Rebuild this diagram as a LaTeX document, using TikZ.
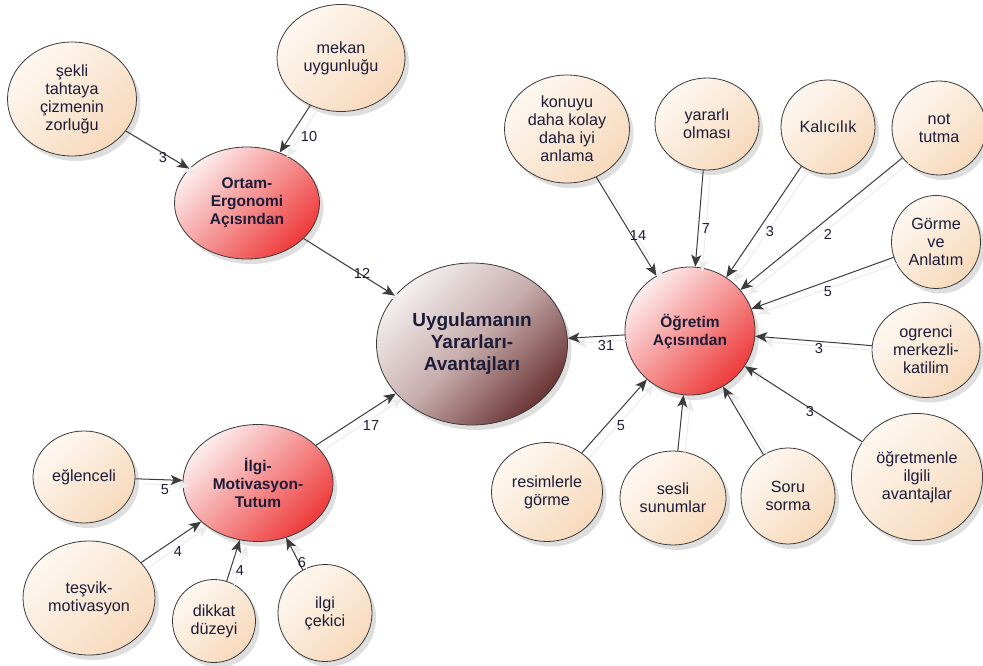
\documentclass[tikz,border=0pt]{standalone}
\usepackage{fontspec}
\setmainfont{Liberation Sans}
\usetikzlibrary{shapes.geometric,arrows.meta,shadows}

\definecolor{txt}{HTML}{1C1C38}
\definecolor{rim}{HTML}{3A3A3A}
\definecolor{creamA}{HTML}{FEF8F1}
\definecolor{creamB}{HTML}{F7D9BC}
\definecolor{pinkA}{HTML}{FDEDED}
\definecolor{pinkB}{HTML}{EE3A3A}
\definecolor{mauveA}{HTML}{F4EFEF}
\definecolor{mauveM}{HTML}{C7ACAC}
\definecolor{mauveB}{HTML}{6A3434}
\definecolor{linegray}{HTML}{3C3C3C}

\tikzset{
  bubble/.style={ellipse, draw=rim, line width=0.8pt, inner sep=0pt, align=center, text=txt,
    drop shadow={shadow xshift=4pt, shadow yshift=-5pt, fill=black, opacity=0.13}},
  leaf/.style={bubble, top color=creamA, bottom color=creamB, shading angle=45,
    font=\fontsize{16.2}{18}\selectfont},
  hub/.style={bubble, top color=pinkA, bottom color=pinkB, shading angle=45,
    font=\bfseries\fontsize{15.5}{18}\selectfont},
  core/.style={bubble, top color=mauveA, bottom color=mauveB, middle color=mauveM, shading angle=45,
    font=\bfseries\fontsize{19}{22}\selectfont},
  link/.style={draw=linegray, line width=1pt, -{Stealth[length=12pt,width=10pt,inset=3pt]}},
  ghost/.style={draw=black!8, line width=1pt, -{Stealth[length=12pt,width=10pt,inset=3pt]},
    transform canvas={shift={(7pt,-5pt)}}},
  lbl/.style={text=txt, font=\fontsize{14.5}{16}\selectfont, inner sep=0pt}
}

\begin{document}
\begin{tikzpicture}[x=1pt,y=-1pt]
\useasboundingbox (0,0) rectangle (983,666);

% central node and the three sub-hubs
\node[core, minimum width=191pt, minimum height=162pt] (core) at (472,344) {Uygulamanın\\Yararları-\\Avantajları};
\node[hub, minimum width=145pt, minimum height=112pt] (ortam) at (247,203) {Ortam-\\Ergonomi\\Açısından};
\node[hub, minimum width=130pt, minimum height=128pt] (ogr) at (690,331) {Öğretim\\Açısından};
\node[hub, minimum width=150pt, minimum height=117pt] (ilgi) at (258,483) {İlgi-\\Motivasyon-\\Tutum};

% leaves of the ergonomics hub
\node[leaf, minimum width=129pt, minimum height=114pt] (sekli) at (72,99) {şekli\\tahtaya\\çizmenin\\zorluğu};
\node[leaf, minimum width=128pt, minimum height=107pt] (mekan) at (341,58) {mekan\\uygunluğu};

% leaves of the teaching hub
\node[leaf, minimum width=125pt, minimum height=108pt] (konuyu) at (567,129) {konuyu\\daha kolay\\daha iyi\\anlama};
\node[leaf, minimum width=104pt, minimum height=92pt] (yararli) at (707,124) {yararlı\\olması};
\node[leaf, minimum width=94pt, minimum height=94pt] (kalici) at (828,127) {Kalıcılık};
\node[leaf, minimum width=94pt, minimum height=94pt] (nott) at (939,128) {not\\tutma};
\node[leaf, minimum width=89pt, minimum height=93pt] (gorme) at (936,242) {Görme\\ve\\Anlatım};
\node[leaf, minimum width=108pt, minimum height=95pt] (ogrenci) at (926,350) {ogrenci\\merkezli-\\katilim};
\node[leaf, minimum width=131pt, minimum height=127pt] (ogretmen) at (917,477) {öğretmenle\\ilgili\\avantajlar};
\node[leaf, minimum width=94pt, minimum height=96pt] (soru) at (788,496) {Soru\\sorma};
\node[leaf, minimum width=106pt, minimum height=94pt] (sesli) at (673,498) {sesli\\sunumlar};
\node[leaf, minimum width=111pt, minimum height=99pt] (resim) at (547,492) {resimlerle\\görme};

% leaves of the motivation hub
\node[leaf, minimum width=102pt, minimum height=92pt] (eglen) at (84,477) {eğlenceli};
\node[leaf, minimum width=132pt, minimum height=114pt] (tesvik) at (89,598) {teşvik-\\motivasyon};
\node[leaf, minimum width=83pt, minimum height=83pt] (dikkat) at (214,621) {dikkat\\düzeyi};
\node[leaf, minimum width=94pt, minimum height=97pt] (cekici) at (325,613) {ilgi\\çekici};

% faint offset copies of the connectors
\foreach \a/\b in {sekli/ortam, mekan/ortam, ortam/core, ogr/core, ilgi/core,
  konuyu/ogr, yararli/ogr, kalici/ogr, nott/ogr, gorme/ogr, ogrenci/ogr, ogretmen/ogr,
  resim/ogr, sesli/ogr, soru/ogr, eglen/ilgi, tesvik/ilgi, dikkat/ilgi, cekici/ilgi}
  \draw[ghost] (\a) -- (\b);

% connectors
\foreach \a/\b in {sekli/ortam, mekan/ortam, ortam/core, ogr/core, ilgi/core,
  konuyu/ogr, yararli/ogr, kalici/ogr, nott/ogr, gorme/ogr, ogrenci/ogr, ogretmen/ogr,
  resim/ogr, sesli/ogr, soru/ogr, eglen/ilgi, tesvik/ilgi, dikkat/ilgi, cekici/ilgi}
  \draw[link] (\a) -- (\b);

% counts on the connectors
\node[lbl] (n1) at (163,158) {3};
\node[lbl] (n2) at (309,137) {10};
\node[lbl] (n3) at (362,273) {12};
\node[lbl] (n4) at (606,346) {31};
\node[lbl] (n5) at (638,236) {14};
\node[lbl] (n6) at (706,229) {7};
\node[lbl] (n7) at (770,232) {3};
\node[lbl] (n8) at (828,234) {2};
\node[lbl] (n9) at (828,292) {5};
\node[lbl] (n10) at (819,349) {3};
\node[lbl] (n11) at (810,412) {3};
\node[lbl] (n12) at (621,426) {5};
\node[lbl] (n13) at (371,426) {17};
\node[lbl] (n14) at (165,490) {5};
\node[lbl] (n15) at (178,552) {4};
\node[lbl] (n16) at (240,571) {4};
\node[lbl] (n17) at (302,563) {6};
\end{tikzpicture}
\end{document}
